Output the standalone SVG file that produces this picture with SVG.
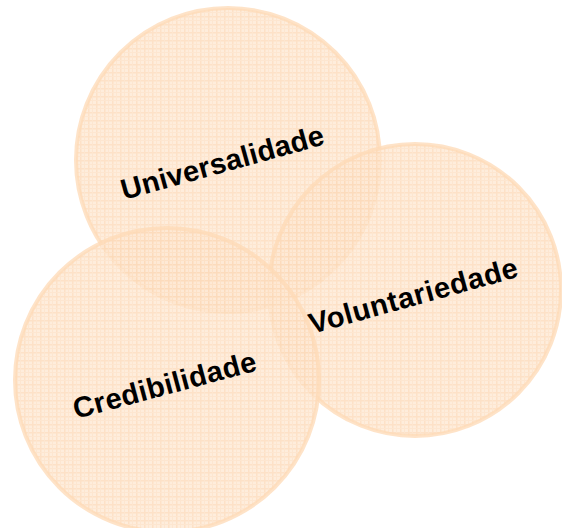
<svg xmlns="http://www.w3.org/2000/svg" width="562" height="528" viewBox="0 0 562 528">
<defs>
<pattern id="grid" width="8" height="8" patternUnits="userSpaceOnUse">
<rect width="8" height="8" fill="#FEE8D3"/>
<path d="M0 0.75H8M0.75 0V8" stroke="#FCDAB9" stroke-width="1.5"/>
<path d="M0 4.5H8M4.5 0V8" stroke="#FDE0C4" stroke-width="1"/>
</pattern>
</defs>
<style>
.c{fill:url(#grid);fill-opacity:0.8;stroke:#FDD9B6;stroke-width:4;stroke-opacity:0.75}
.t{font-family:"Liberation Sans",Arial,sans-serif;font-weight:bold;font-size:29px;fill:#000;letter-spacing:0.5px}
</style>
<rect width="562" height="528" fill="#fff"/>
<g id="universalidade">
<circle class="c" cx="228" cy="160" r="152"/>
</g>
<g id="voluntariedade">
<circle class="c" cx="415" cy="290" r="146"/>
</g>
<g id="credibilidade">
<circle class="c" cx="167" cy="380" r="152"/>
</g>
<g id="labels">
<text class="t" x="124" y="200" transform="rotate(-15.5 124 200)" textLength="210" lengthAdjust="spacing">Universalidade</text>
<text class="t" x="312" y="334" transform="rotate(-15.5 312 334)" textLength="216" lengthAdjust="spacing">Voluntariedade</text>
<text class="t" x="76" y="419" transform="rotate(-15 76 419)" textLength="189" lengthAdjust="spacing">Credibilidade</text>
</g>
<g id="connectors"/>
</svg>
